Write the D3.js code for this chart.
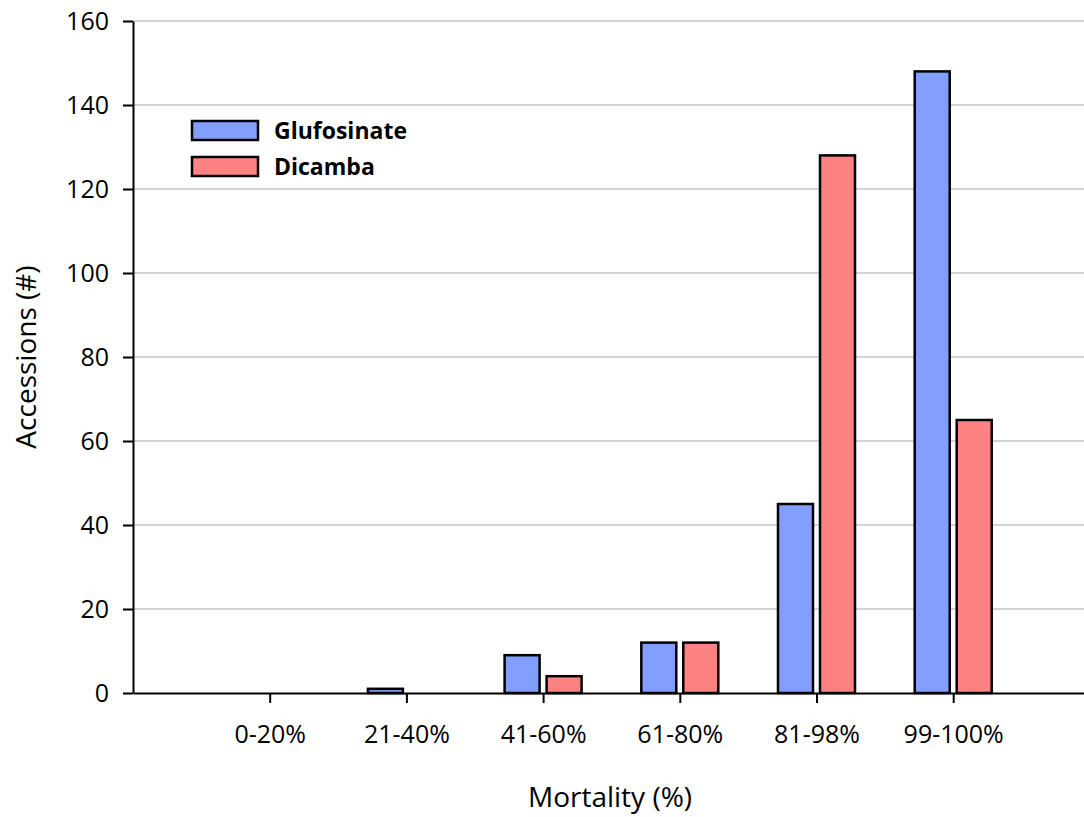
<!DOCTYPE html>
<html>
<head>
<meta charset="utf-8">
<script src="https://cdn.jsdelivr.net/npm/d3@7"></script>
<style>
  body{margin:0;background:#fff;}
  svg{display:block;font-family:"Open Sans",sans-serif;}
</style>
</head>
<body>
<script>
// data
const categories=['0-20%','21-40%','41-60%','61-80%','81-98%','99-100%'];
const glufosinate=[0,1,9,12,45,148];
const dicamba=[0,0,4,12,128,65];
const seriesNames=['Glufosinate','Dicamba'];
const seriesColors=['#829FFF','#FF8282'];
const yTicks=[0,20,40,60,80,100,120,140,160];

let svgWidth=1084,svgHeight=817;
let plotLeft=133,plotTop=21,plotBottom=693;

let svg=d3.select("body").append("svg")
    .attr("width",svgWidth)
    .attr("height",svgHeight);

// slot 0 is an empty position before the first category
let x=d3.scaleLinear().domain([0,7]).range([plotLeft,plotLeft+7*136.7]);
let y=d3.scaleLinear().domain([0,160]).range([plotBottom,plotTop]);

// gridlines
svg.append("g").attr("id","g_grid")
    .selectAll("line")
    .data(yTicks.filter(t=>t>0))
    .enter().append("line")
    .attr("x1",plotLeft).attr("x2",svgWidth)
    .attr("y1",d=>y(d)).attr("y2",d=>y(d))
    .attr("stroke","#c4c4c4").attr("stroke-width",1.5);

// bars
let barW=35/136.7,off=21/136.7;
let bars=[];
categories.forEach((c,i)=>{
    bars.push({'s':0,'i':i,'v':glufosinate[i]});
    bars.push({'s':1,'i':i,'v':dicamba[i]});
});
svg.append("g").attr("id","g_bars")
    .selectAll("rect")
    .data(bars.filter(b=>b.v>0))
    .enter().append("rect")
    .attr("x",d=>x(d.i+1+(d.s?off:-off)-barW/2))
    .attr("width",d=>x(barW)-x(0))
    .attr("y",d=>y(d.v))
    .attr("height",d=>y(0)-y(d.v))
    .attr("fill",d=>seriesColors[d.s])
    .attr("stroke","#000").attr("stroke-width",2.5);

// y axis
let yAxis=svg.append("g")
    .attr("transform","translate("+plotLeft+",0)")
    .call(d3.axisLeft(y).tickValues(yTicks).tickSize(10).tickSizeOuter(0).tickPadding(14));
yAxis.select(".domain").attr("stroke","#000").attr("stroke-width",2);
yAxis.selectAll(".tick line").attr("stroke","#000").attr("stroke-width",2);
yAxis.selectAll(".tick text").attr("font-size",25).attr("fill","#000")
    .attr("font-family","'Open Sans',sans-serif");

// x axis
let xAxis=svg.append("g")
    .attr("transform","translate(0,"+plotBottom+")")
    .call(d3.axisBottom(x).tickValues(d3.range(1,7)).tickFormat(d=>categories[d-1])
        .tickSize(10).tickSizeOuter(0).tickPadding(22));
xAxis.select(".domain").attr("stroke","#000").attr("stroke-width",2);
xAxis.selectAll(".tick line").attr("stroke","#000").attr("stroke-width",2);
xAxis.selectAll(".tick text").attr("font-size",25).attr("fill","#000")
    .attr("font-family","'Open Sans',sans-serif");

// axis titles
svg.append("text")
    .attr("x",610).attr("y",807)
    .attr("text-anchor","middle")
    .attr("font-size",28)
    .text("Mortality (%)");
svg.append("text")
    .attr("transform","translate(36,357) rotate(-90)")
    .attr("text-anchor","middle")
    .attr("font-size",28)
    .text("Accessions (#)");

// legend
let legend=svg.append("g").attr("id","g_legend")
    .selectAll("g")
    .data(seriesNames)
    .enter().append("g")
    .attr("transform",(d,i)=>"translate(192,"+(121+i*36)+")");
legend.append("rect")
    .attr("width",66).attr("height",19)
    .attr("fill",(d,i)=>seriesColors[i])
    .attr("stroke","#000").attr("stroke-width",2.5);
legend.append("text")
    .attr("x",82).attr("y",18)
    .attr("font-size",23).attr("font-weight","bold")
    .text(d=>d);
</script>
</body>
</html>
